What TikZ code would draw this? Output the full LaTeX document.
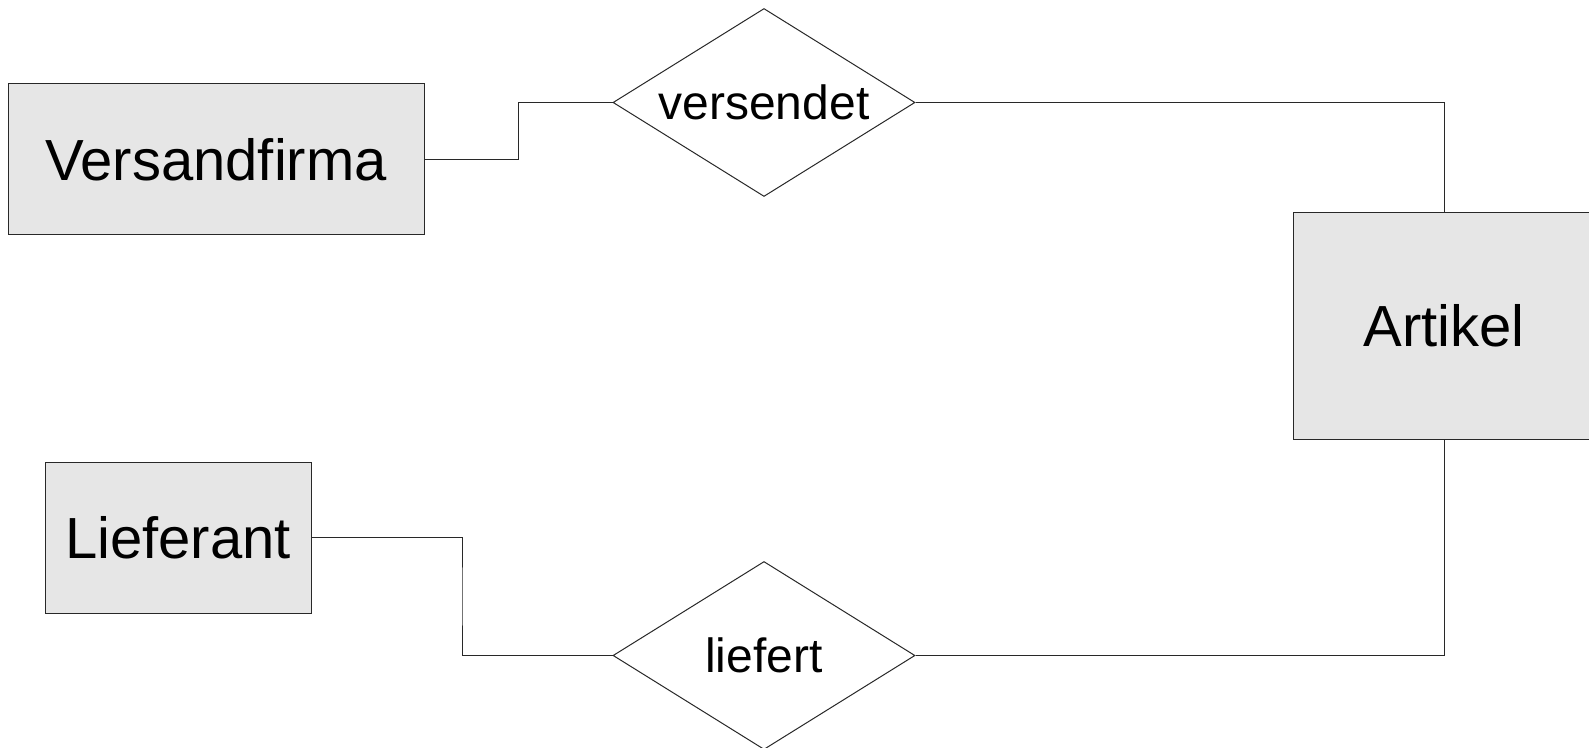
\documentclass[tikz,border=0pt]{standalone}
\usepackage{fontspec}
\setsansfont{Liberation Sans}
\usetikzlibrary{
  shapes.geometric,
  positioning,
  calc}
\definecolor{entitycolor}{RGB}{230,230,230}
\definecolor{linecolor}{RGB}{40,40,40}
\tikzset{
  %% entity : an entity type
  entity/.style={
    rectangle,
    draw=linecolor,
    line width=0.5pt,
    fill=entitycolor,
    inner sep=0pt,
    font=\fontsize{29pt}{34pt}\selectfont,
    align=center
  },
  %% relation : a relationship between entities
  relation/.style={
    diamond,
    aspect=1.6,
    draw=linecolor,
    line width=0.5pt,
    fill=white,
    inner sep=0pt,
    minimum width=151pt,
    minimum height=94pt,
    font=\fontsize{24pt}{28pt}\selectfont,
    align=center
  },
  %% link : line between entity and relation
  link/.style={linecolor, line width=0.5pt}
}
\begin{document}
\begin{tikzpicture}
  [x=0.5pt,
  y=-0.5pt,
  node distance=2cm and 3.5cm]
  \sffamily

  \useasboundingbox (0,0) rectangle (1589,748);

  %% entities
  \node (versandfirma) [entity, minimum width=208pt, minimum height=75.5pt]
    at (216,159.5) {Versandfirma};

  \node (lieferant) [entity, minimum width=133pt, minimum height=75.5pt]
    at (178,537.5) {Lieferant};

  \node (artikel) [entity, minimum width=151pt, minimum height=113pt]
    at (1444,326) {Artikel};


  %% relations
  \node (versendet) [relation] at (764,102.5) {versendet};

  \node (liefert) [relation, below=182pt of versendet] {liefert};


  %% Connections
  \draw [link] (versandfirma.east) -|
    ($(versandfirma.east)!0.5!(versendet.west)$) |- (versendet.west);
  \draw [link] (versendet.east) -| (artikel.north);

  \draw [link] (lieferant.east) -|
    ($(lieferant.east)!0.5!(liefert.west)$) |- (liefert.west);
  \draw [link] (liefert.east) -| (artikel.south);

\end{tikzpicture}
\end{document}
